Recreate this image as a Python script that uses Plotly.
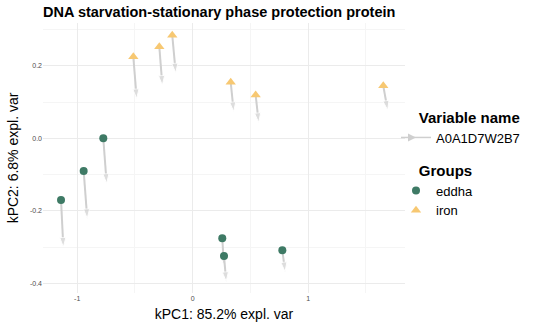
import plotly.graph_objects as go

# Sample scores on the first two kernel PCs, with the loading-arrow end points
eddha_x = [-1.14, -0.944, -0.774, 0.256, 0.271, 0.776]
eddha_y = [-0.170, -0.090, 0.000, -0.276, -0.325, -0.309]
eddha_x_end = [-1.12, -0.913, -0.745, 0.270, 0.290, 0.800]
eddha_y_end = [-0.300, -0.221, -0.124, -0.350, -0.395, -0.368]

iron_x = [-0.514, -0.289, -0.177, 0.329, 0.545, 1.650]
iron_y = [0.225, 0.253, 0.285, 0.155, 0.120, 0.145]
iron_x_end = [-0.485, -0.263, -0.147, 0.355, 0.571, 1.688]
iron_y_end = [0.110, 0.147, 0.181, 0.074, 0.044, 0.078]

variable_name = "A0A1D7W2B7"
title = "DNA starvation-stationary phase protection protein"
x_title = "kPC1: 85.2% expl. var"
y_title = "kPC2: 6.8% expl. var"

GREEN = "#3e7a65"
YELLOW = "#f7c872"
ARROW = "#cfcfcf"
FONT = "Liberation Sans, Arial, sans-serif"
INDENT = "&nbsp;" * 5  # lines legend titles up with the legend glyphs

fig = go.Figure()

# Arrows: one short segment per sample, arrowhead oriented along the segment
starts_x = eddha_x + iron_x
starts_y = eddha_y + iron_y
ends_x = eddha_x_end + iron_x_end
ends_y = eddha_y_end + iron_y_end
for x0, y0, x1, y1 in zip(starts_x, starts_y, ends_x, ends_y):
    fig.add_trace(go.Scatter(
        x=[x0, x1], y=[y0, y1], mode="lines+markers",
        line=dict(color=ARROW, width=2),
        marker=dict(symbol="arrow", size=[0, 10], color=ARROW, angleref="previous"),
        showlegend=False, hoverinfo="skip",
    ))

# Legend key for the arrows
fig.add_trace(go.Scatter(
    x=[None], y=[None], mode="lines+markers", name=variable_name,
    line=dict(color=ARROW, width=1.5),
    marker=dict(symbol="arrow-right", size=8, color=ARROW),
    legend="legend",
))

fig.add_trace(go.Scatter(
    x=eddha_x, y=eddha_y, mode="markers", name="eddha",
    marker=dict(symbol="circle", size=8, color=GREEN),
    legend="legend2",
))
fig.add_trace(go.Scatter(
    x=iron_x, y=iron_y, mode="markers", name="iron",
    marker=dict(symbol="triangle-up", size=9, color=YELLOW),
    legend="legend2",
))

axis_common = dict(
    showgrid=True, gridcolor="#ebebeb", gridwidth=1,
    zeroline=False, showline=False, ticks="", automargin=False,
    tickfont=dict(size=7, color="#4d4d4d", family=FONT),
    title_font=dict(size=14, color="#000000", family=FONT),
)

legend_common = dict(
    xref="container", yref="container", xanchor="left", yanchor="top",
    font=dict(size=13, family=FONT), bgcolor="rgba(0,0,0,0)",
    itemwidth=30, tracegroupgap=0,
)

fig.update_layout(
    width=537, height=322,
    margin=dict(l=43, r=132, t=23, b=29, autoexpand=False),
    paper_bgcolor="white", plot_bgcolor="white",
    font=dict(family=FONT, color="#000000"),
    title=dict(text="<b>" + title + "</b>", x=0, xref="paper", xanchor="left",
               y=1 - 12 / 322, yref="container", yanchor="middle",
               font=dict(size=14.5, family=FONT)),
    xaxis=dict(axis_common, range=[-1.296, 1.838], tickvals=[-1, 0, 1],
               ticktext=["-1", "0", "1"],
               minor=dict(showgrid=True, gridcolor="#f5f5f5", tickvals=[-0.5, 0.5, 1.5]),
               title=dict(text=x_title, standoff=8)),
    yaxis=dict(axis_common, range=[-0.427, 0.3185], tickvals=[0.2, 0.0, -0.2, -0.4],
               ticktext=["0.2", "0.0", "-0.2", "-0.4"],
               minor=dict(showgrid=True, gridcolor="#f5f5f5", tickvals=[0.3, 0.1, -0.1, -0.3]),
               title=dict(text=y_title, standoff=8)),
    legend=dict(legend_common,
                title=dict(text=INDENT + "<b>Variable name</b>", font=dict(size=15, family=FONT)),
                x=396 / 537, y=1 - 103 / 322),
    legend2=dict(legend_common,
                 title=dict(text=INDENT + "<b>Groups</b>", font=dict(size=15, family=FONT)),
                 x=396 / 537, y=1 - 156 / 322),
)

fig.write_html("out.html")
